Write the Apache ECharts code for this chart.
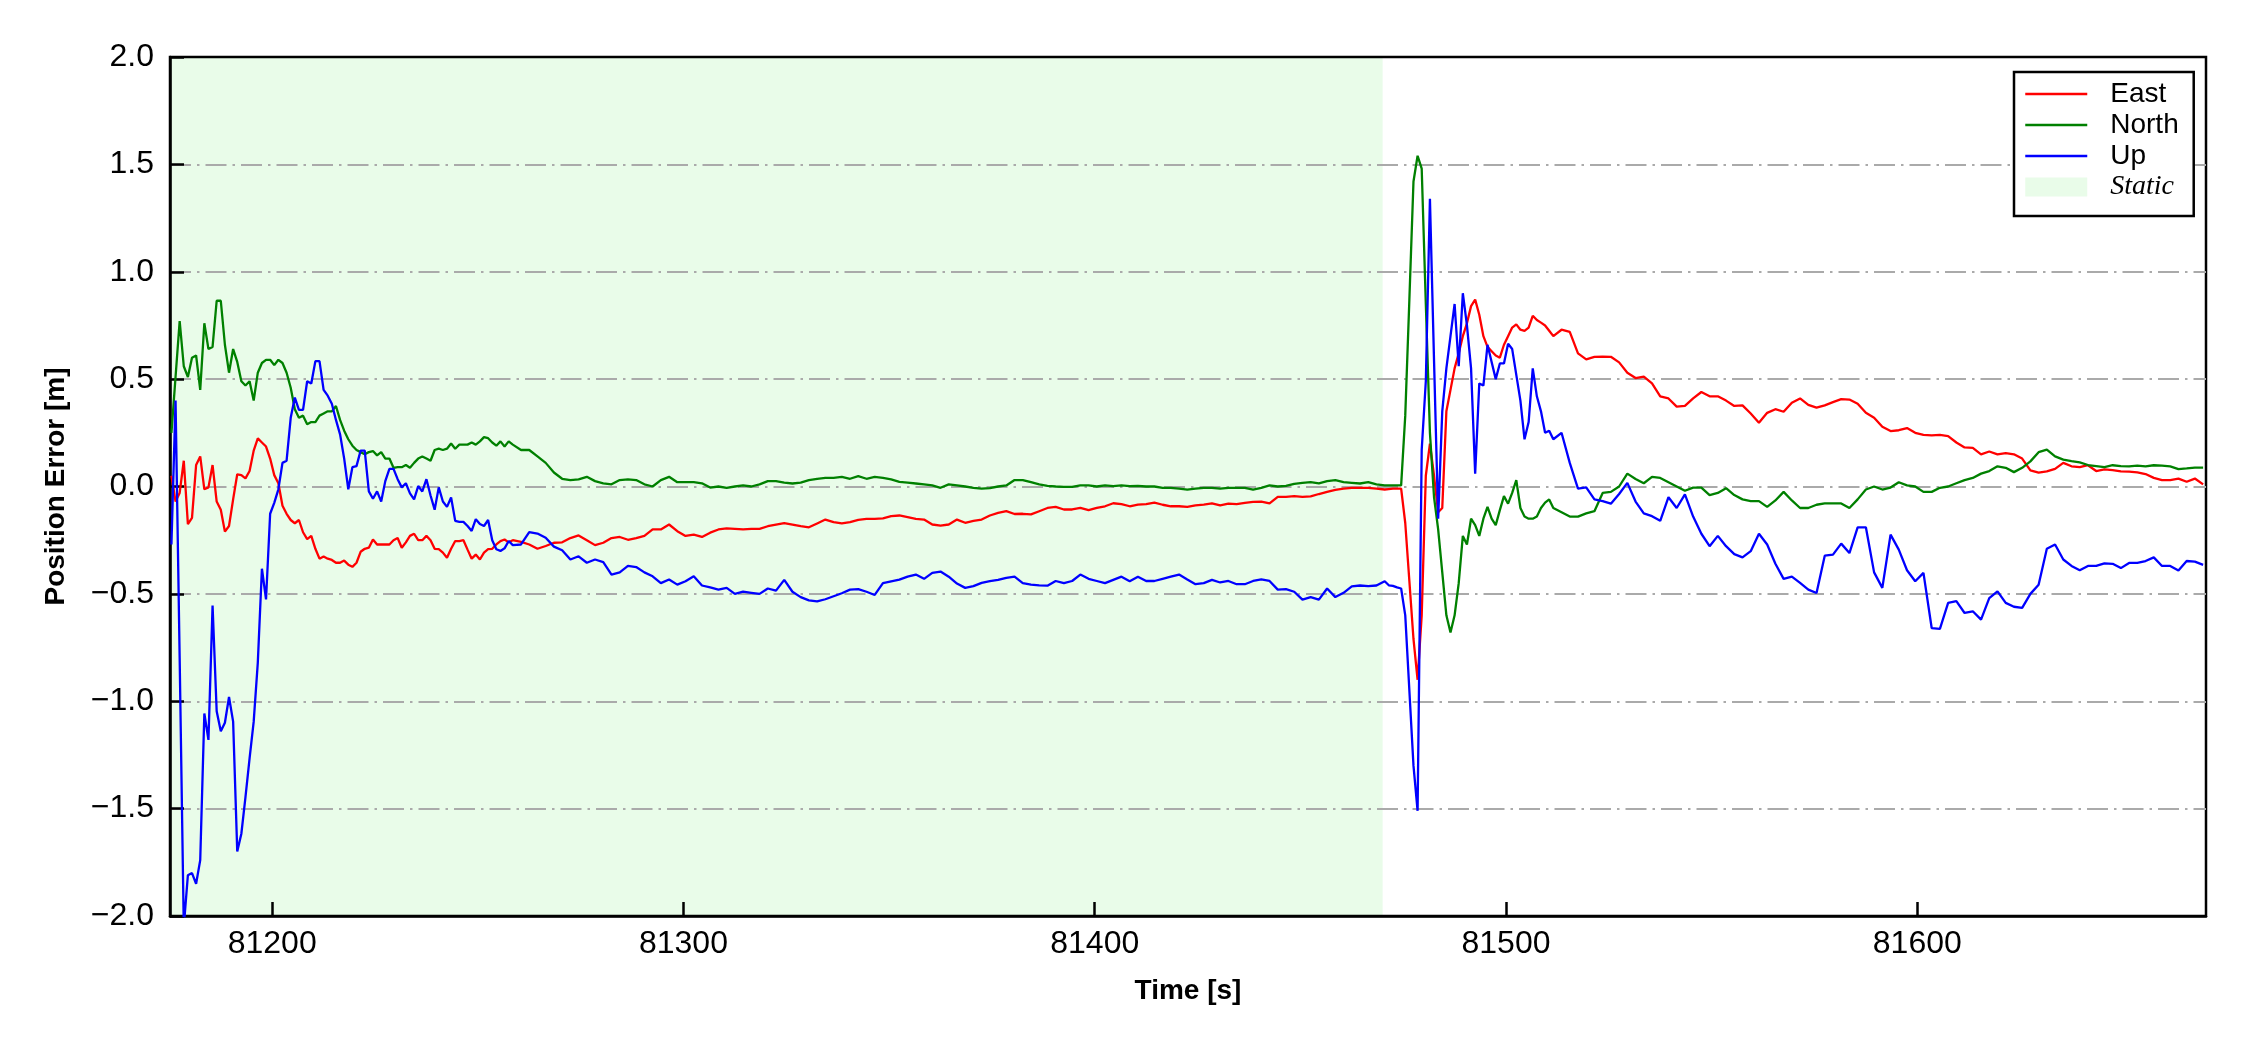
<!DOCTYPE html>
<html>
<head>
<meta charset="utf-8">
<script src="https://cdn.jsdelivr.net/npm/echarts@6/dist/echarts.min.js"></script>
<style>
html,body{margin:0;padding:0;background:#ffffff;}
#chart{width:2250px;height:1050px;}
</style>
</head>
<body>
<div id="chart"></div>
<script>
// ---------------- DATA ----------------
// Sample-time segments (start [s], step [s], number of samples)
const segA = [81175.5, 1, 84];
const segB = [81260.5, 2, 106];
const segC = [81471.5, 1, 41];
const segD = [81513.5, 2, 79];

// East error [m]
const eastA = [0.05, -0.07, -0.03, 0.12, -0.175, -0.146, 0.10, 0.14, -0.013, -0.004,
0.10, -0.07, -0.108, -0.21, -0.184, -0.06, 0.057, 0.053, 0.038, 0.072,
0.167, 0.224, 0.205, 0.186, 0.13, 0.053, 0.015, -0.09, -0.127, -0.156,
-0.171, -0.156, -0.213, -0.245, -0.23, -0.29, -0.336, -0.326, -0.336, -0.342,
-0.355, -0.355, -0.345, -0.364, -0.374, -0.355, -0.304, -0.29, -0.285, -0.247,
-0.27, -0.27, -0.27, -0.27, -0.25, -0.24, -0.285, -0.26, -0.23, -0.22,
-0.25, -0.25, -0.23, -0.25, -0.29, -0.292, -0.308, -0.332, -0.29, -0.254,
-0.254, -0.25, -0.294, -0.336, -0.317, -0.34, -0.308, -0.292, -0.29, -0.27,
-0.254, -0.247, -0.26, -0.25];
const eastB = [-0.258, -0.27, -0.29, -0.277, -0.262, -0.26, -0.24, -0.228, -0.25, -0.273,
-0.262, -0.24, -0.235, -0.248, -0.24, -0.23, -0.2, -0.2, -0.177, -0.208,
-0.23, -0.224, -0.235,
-0.215, -0.20, -0.195, -0.197, -0.2, -0.197, -0.197, -0.185, -0.177, -0.17,
-0.177, -0.185, -0.19, -0.172, -0.154, -0.166, -0.172, -0.166, -0.155, -0.151,
-0.151, -0.148, -0.138, -0.135, -0.143, -0.151, -0.154, -0.177, -0.182, -0.177,
-0.154, -0.169, -0.16, -0.154, -0.135, -0.123, -0.115, -0.128, -0.127, -0.13,
-0.115, -0.1, -0.095, -0.107, -0.107, -0.1, -0.11, -0.1, -0.092, -0.078,
-0.082, -0.092, -0.084, -0.082, -0.075, -0.085, -0.092, -0.092, -0.095, -0.088,
-0.084, -0.079, -0.088, -0.08, -0.082, -0.076, -0.072, -0.07, -0.079, -0.048,
-0.048, -0.045, -0.048, -0.046, -0.035, -0.025, -0.016, -0.01, -0.006, -0.006,
-0.006, -0.01, -0.014];
const eastC = [-0.012, -0.01, -0.01, -0.01, -0.17, -0.44, -0.71, -0.9, -0.6, 0.05,
0.2, 0.05, -0.12, -0.1, 0.35, 0.45, 0.55, 0.62, 0.7, 0.76,
0.84, 0.87, 0.8, 0.7, 0.65, 0.63, 0.61, 0.6, 0.66, 0.7,
0.74, 0.755, 0.73, 0.725, 0.74, 0.795, 0.775, 0.763, 0.75, 0.725,
0.7];
const eastD = [0.73, 0.72, 0.62, 0.592, 0.604, 0.605, 0.604, 0.578, 0.53, 0.505,
0.512, 0.48, 0.42, 0.41, 0.372, 0.375, 0.41, 0.44, 0.42, 0.42,
0.4, 0.375, 0.378, 0.34, 0.297, 0.343, 0.36, 0.348, 0.39, 0.41,
0.38, 0.367, 0.378, 0.393, 0.407, 0.405, 0.385, 0.343, 0.32, 0.278,
0.258, 0.262, 0.272, 0.25, 0.24, 0.238, 0.24, 0.235, 0.205, 0.182,
0.18, 0.15, 0.163, 0.15, 0.155, 0.15, 0.13, 0.075, 0.065, 0.07,
0.082, 0.11, 0.094, 0.09, 0.099, 0.072, 0.08, 0.076, 0.07, 0.069,
0.066, 0.058, 0.04, 0.03, 0.03, 0.037, 0.022, 0.037, 0.01];

// North error [m]
const northA = [0.25, 0.51, 0.77, 0.56, 0.51, 0.60, 0.61, 0.45, 0.76, 0.64,
0.65, 0.865, 0.865, 0.66, 0.53, 0.64, 0.58, 0.49, 0.47, 0.49,
0.40, 0.53, 0.575, 0.59, 0.59, 0.565, 0.59, 0.575, 0.53, 0.46,
0.36, 0.32, 0.33, 0.29, 0.30, 0.30, 0.33, 0.34, 0.35, 0.35,
0.375, 0.31, 0.26, 0.22, 0.19, 0.17, 0.16, 0.15, 0.16, 0.165,
0.145, 0.16, 0.13, 0.13, 0.087, 0.09, 0.09, 0.10, 0.087, 0.11,
0.13, 0.14, 0.13, 0.12, 0.17, 0.176, 0.17, 0.176, 0.20, 0.176,
0.195, 0.195, 0.195, 0.205, 0.195, 0.21, 0.23, 0.225, 0.205, 0.19,
0.21, 0.186, 0.21, 0.195];
const northB = [0.17, 0.17, 0.14, 0.11, 0.065, 0.036, 0.03, 0.033, 0.045, 0.025,
0.015, 0.01, 0.03, 0.033, 0.03, 0.01, 0.0, 0.03, 0.045, 0.02,
0.02, 0.02, 0.015,
-0.005, 0.0, -0.006, 0.0, 0.005, 0.0, 0.01, 0.025, 0.025, 0.018,
0.014, 0.018, 0.03, 0.036, 0.04, 0.04, 0.045, 0.036, 0.048, 0.036,
0.045, 0.04, 0.033, 0.022, 0.018, 0.014, 0.01, 0.005, -0.006, 0.01,
0.005, 0.0, -0.006, -0.01, -0.008, 0.0, 0.005, 0.03, 0.03, 0.02,
0.01, 0.003, 0.0, -0.002, -0.002, 0.005, 0.005, 0.0, 0.005, 0.002,
0.005, 0.002, 0.003, 0.0, 0.0, -0.006, -0.006, -0.01, -0.015, -0.01,
-0.006, -0.006, -0.01, -0.006, -0.006, -0.006, -0.014, -0.006, 0.005, 0.0,
0.003, 0.012, 0.017, 0.02, 0.015, 0.025, 0.03, 0.02, 0.017, 0.014,
0.02, 0.01, 0.005];
const northC = [0.005, 0.005, 0.005, 0.005, 0.33, 0.87, 1.42, 1.54, 1.48, 0.85,
0.25, -0.05, -0.2, -0.4, -0.6, -0.68, -0.6, -0.45, -0.23, -0.27,
-0.15, -0.18, -0.23, -0.15, -0.095, -0.15, -0.18, -0.11, -0.045, -0.08,
-0.03, 0.03, -0.1, -0.14, -0.15, -0.15, -0.14, -0.1, -0.075, -0.06,
-0.1];
const northD = [-0.12, -0.14, -0.14, -0.125, -0.115, -0.03, -0.025, 0.0, 0.06, 0.035,
0.015, 0.045, 0.04, 0.02, 0.0, -0.02, -0.005, -0.005, -0.04, -0.03,
-0.008, -0.04, -0.06, -0.068, -0.068, -0.095, -0.065, -0.025, -0.065, -0.1,
-0.1, -0.085, -0.079, -0.079, -0.079, -0.1, -0.06, -0.014, 0.0, -0.014,
-0.005, 0.02, 0.005, 0.0, -0.025, -0.025, -0.006, 0.0, 0.015, 0.03,
0.04, 0.06, 0.072, 0.094, 0.087, 0.067, 0.087, 0.117, 0.16, 0.172,
0.14, 0.125, 0.118, 0.112, 0.1, 0.095, 0.09, 0.099, 0.095, 0.094,
0.097, 0.094, 0.099, 0.097, 0.094, 0.081, 0.084, 0.088, 0.088];

// Up error [m]
const upA = [-0.27, 0.40, -0.8, -2.05, -1.81, -1.80, -1.85, -1.74, -1.057, -1.18,
-0.554, -1.047, -1.14, -1.10, -0.98, -1.095, -1.70, -1.617, -1.446, -1.266,
-1.095, -0.82, -0.383, -0.526, -0.127, -0.076, -0.013, 0.11, 0.12, 0.32,
0.414, 0.357, 0.357, 0.49, 0.48, 0.584, 0.584, 0.45, 0.423, 0.385,
0.31, 0.243, 0.13, -0.013, 0.09, 0.095, 0.167, 0.167, -0.023, -0.057,
-0.023, -0.07, 0.025, 0.082, 0.082, 0.034, -0.004, 0.015, -0.032, -0.06,
0.002, -0.023, 0.034, -0.042, -0.108, -0.004, -0.07, -0.095, -0.051, -0.16,
-0.165, -0.165, -0.184, -0.207, -0.152, -0.175, -0.184, -0.156, -0.25, -0.292,
-0.30, -0.288, -0.254, -0.273];
const upB = [-0.27, -0.212, -0.219, -0.239, -0.28, -0.297, -0.34, -0.325, -0.355, -0.34,
-0.352, -0.41, -0.40, -0.37, -0.375, -0.40, -0.418, -0.45, -0.433, -0.457,
-0.441, -0.418, -0.461,
-0.47, -0.48, -0.472, -0.5, -0.49, -0.495, -0.5, -0.475, -0.485, -0.435,
-0.49, -0.515, -0.53, -0.535, -0.525, -0.511, -0.497, -0.48, -0.478, -0.49,
-0.505, -0.45, -0.442, -0.434, -0.42, -0.41, -0.43, -0.402, -0.396, -0.42,
-0.452, -0.472, -0.464, -0.449, -0.441, -0.435, -0.425, -0.42, -0.45, -0.457,
-0.46, -0.462, -0.44, -0.45, -0.44, -0.41, -0.43, -0.44, -0.45, -0.435,
-0.42, -0.441, -0.42, -0.44, -0.44, -0.43, -0.42, -0.41, -0.433, -0.455,
-0.45, -0.435, -0.447, -0.44, -0.455, -0.455, -0.44, -0.433, -0.44, -0.48,
-0.478, -0.49, -0.527, -0.515, -0.527, -0.475, -0.515, -0.495, -0.465, -0.461,
-0.464, -0.461, -0.441];
const upC = [-0.46, -0.463, -0.47, -0.475, -0.6, -0.95, -1.3, -1.51, 0.17, 0.49,
1.34, 0.585, -0.15, 0.35, 0.55, 0.7, 0.85, 0.56, 0.9, 0.75,
0.55, 0.06, 0.48, 0.47, 0.66, 0.58, 0.5, 0.573, 0.573, 0.665,
0.64, 0.52, 0.4, 0.22, 0.3, 0.55, 0.42, 0.35, 0.25, 0.26,
0.22];
const upD = [0.25, 0.11, -0.01, -0.004, -0.06, -0.068, -0.08, -0.035, 0.017, -0.07,
-0.125, -0.138, -0.16, -0.05, -0.1, -0.037, -0.14, -0.22, -0.278, -0.23,
-0.278, -0.315, -0.33, -0.301, -0.22, -0.27, -0.36, -0.43, -0.42, -0.449,
-0.48, -0.496, -0.322, -0.317, -0.266, -0.31, -0.19, -0.19, -0.4, -0.472,
-0.224, -0.294, -0.39, -0.441, -0.402, -0.659, -0.663, -0.542, -0.534, -0.589,
-0.581, -0.62, -0.52, -0.488, -0.542, -0.56, -0.565, -0.5, -0.457, -0.29,
-0.27, -0.34, -0.37, -0.39, -0.37, -0.37, -0.358, -0.36, -0.38, -0.356,
-0.356, -0.347, -0.33, -0.37, -0.37, -0.391, -0.347, -0.35, -0.365];

// Static interval [s]
const staticStart = 81175;
const staticEnd = 81470;

// Axis ticks
const xTicks = [81200, 81300, 81400, 81500, 81600];
const xMin = 81175.15, xMax = 81670.2;
const yMin = -2, yMax = 2, yStep = 0.5;

const seriesNames = ['East', 'North', 'Up', 'Static'];
const seriesColors = ['#ff0000', '#008000', '#0000ff', '#e9fce9'];

// ---------------- BUILD ----------------
function segTimes(seg) {
  const out = [];
  for (let i = 0; i < seg[2]; i++) out.push(+(seg[0] + i * seg[1]).toFixed(2));
  return out;
}
const times = [].concat(segTimes(segA), segTimes(segB), segTimes(segC), segTimes(segD));
const east = [].concat(eastA, eastB, eastC, eastD);
const north = [].concat(northA, northB, northC, northD);
const up = [].concat(upA, upB, upC, upD);
function pairs(vals) {
  const n = Math.min(times.length, vals.length);
  const out = [];
  for (let i = 0; i < n; i++) out.push([times[i], vals[i]]);
  return out;
}
const FONT = 'Liberation Sans, Arial, Helvetica, sans-serif';

function lineSeries(idx, vals) {
  return {
    name: seriesNames[idx], type: 'line', data: pairs(vals),
    showSymbol: false, symbol: 'none', z: 3, clip: true,
    lineStyle: { color: seriesColors[idx], width: 2.3 },
    itemStyle: { color: seriesColors[idx] },
    emphasis: { disabled: true }
  };
}
function legendLineItem(idx) {
  return { name: seriesNames[idx], itemStyle: { opacity: 0 },
    lineStyle: { color: seriesColors[idx], width: 2.5, opacity: 1 } };
}

const chart = echarts.init(document.getElementById('chart'), null, { renderer: 'canvas', width: 2250, height: 1050 });
chart.setOption({
  animation: false,
  backgroundColor: '#ffffff',
  textStyle: { fontFamily: FONT, color: '#000' },
  grid: { left: 170, top: 57, width: 2036, height: 859, show: true, borderColor: '#000', borderWidth: 2.5, backgroundColor: 'transparent' },
  xAxis: {
    type: 'value', min: xMin, max: xMax,
    axisLine: { show: true, onZero: false, lineStyle: { color: '#000', width: 2.5 } },
    axisTick: { show: true, inside: true, length: 14, customValues: xTicks, lineStyle: { color: '#000', width: 2.5 } },
    axisLabel: { customValues: xTicks, fontSize: 32, lineHeight: 32, fontFamily: FONT, color: '#000', margin: 12,
      formatter: v => String(Math.round(v)) },
    splitLine: { show: false },
    name: 'Time [s]', nameLocation: 'middle', nameGap: 61,
    nameTextStyle: { fontSize: 28, lineHeight: 28, fontWeight: 'bold', fontFamily: FONT, color: '#000' }
  },
  yAxis: {
    type: 'value', min: yMin, max: yMax, interval: yStep,
    axisLine: { show: true, onZero: false, lineStyle: { color: '#000', width: 2.5 } },
    axisTick: { show: true, inside: true, length: 14, lineStyle: { color: '#000', width: 2.5 } },
    axisLabel: { fontSize: 32, lineHeight: 32, fontFamily: FONT, color: '#000', margin: 16,
      formatter: v => (v < 0 ? '\u2212' : '') + Math.abs(v).toFixed(1) },
    splitLine: { show: true, showMinLine: false, showMaxLine: false,
      lineStyle: { color: '#aaaaaa', width: 2, type: [21, 6, 2.5, 6] } },
    name: 'Position Error [m]', nameLocation: 'middle', nameGap: 100, nameRotate: 90,
    nameTextStyle: { fontSize: 28, lineHeight: 28, fontWeight: 'bold', fontFamily: FONT, color: '#000' }
  },
  legend: {
    orient: 'vertical', left: 2014, top: 72,
    padding: [8, 15, 15, 10], itemGap: 3, itemWidth: 62, itemHeight: 19,
    borderColor: '#000', borderWidth: 2.5, borderRadius: 0, backgroundColor: '#ffffff',
    selectedMode: false,
    textStyle: { fontSize: 28, lineHeight: 28, fontFamily: FONT, color: '#000', padding: [0, 0, 0, 18] },
    data: [
      legendLineItem(0), legendLineItem(1), legendLineItem(2),
      { name: 'Static', icon: 'rect', itemStyle: { color: seriesColors[3], borderWidth: 0, opacity: 1 },
        textStyle: { fontFamily: 'Liberation Serif, Times New Roman, serif', fontStyle: 'italic' } }
    ]
  },
  series: [
    lineSeries(0, east),
    lineSeries(1, north),
    lineSeries(2, up),
    {
      name: seriesNames[3], type: 'line', data: [], z: 1,
      lineStyle: { color: seriesColors[3] }, itemStyle: { color: seriesColors[3] },
      markArea: {
        silent: true, z: -1,
        itemStyle: { color: seriesColors[3], borderWidth: 0 },
        data: [[{ xAxis: staticStart }, { xAxis: staticEnd }]]
      }
    }
  ]
});
</script>
</body>
</html>
